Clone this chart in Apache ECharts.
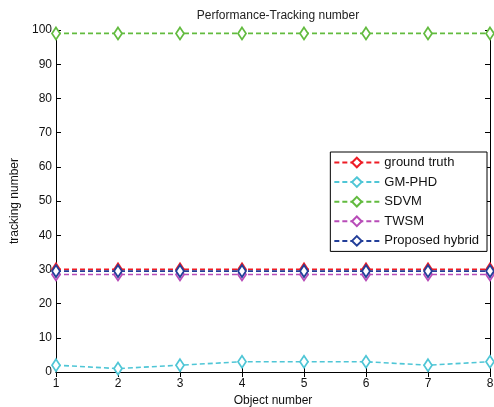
<!DOCTYPE html>
<html lang="en">
<head>
    <meta charset="utf-8">
    <style type="text/css">
    body { margin: 0; background-color: #fff; }
    #echarts { width: 494px; height: 407px; }
    </style>
</head>
<body>
    <div id="echarts"></div>
    <script type="text/javascript" src="https://cdn.jsdelivr.net/npm/echarts@6/dist/echarts.min.js"></script>
    <script type="text/javascript">
    var objects = [1, 2, 3, 4, 5, 6, 7, 8];
    var seriesNames = ['ground truth', 'GM-PHD', 'SDVM', 'TWSM', 'Proposed hybrid'];
    var groundTruth = [30, 30, 30, 30, 30, 30, 30, 30];
    var gmPhd = [2, 1, 2, 3, 3, 3, 2, 3];
    var sdvm = [99, 99, 99, 99, 99, 99, 99, 99];
    var twsm = [28.5, 28.5, 28.5, 28.5, 28.5, 28.5, 28.5, 28.5];
    var hybrid = [29.5, 29.5, 29.5, 29.5, 29.5, 29.5, 29.5, 29.5];
    var colors = ['#ee1c25', '#4fc6d6', '#62bb3f', '#b84cb8', '#233f99'];

    var font = 'Liberation Sans, Arial, sans-serif';
    var myEcharts = echarts.init(document.getElementById('echarts'));

    function makeSeries(name, values, color) {
        return {
            name: name,
            type: 'line',
            data: values.map(function(v, i) { return [objects[i], v]; }),
            symbol: 'diamond',
            symbolSize: [8, 12],
            showSymbol: true,
            lineStyle: { color: color, width: 1.6, type: [5, 3] },
            itemStyle: { color: '#fff', borderColor: color, borderWidth: 1.8 },
            emphasis: { disabled: true },
            animation: false
        };
    }

    var axisCommon = {
        axisLine: { show: true, lineStyle: { color: '#000', width: 1 } },
        axisTick: { show: true, inside: true, length: 5, lineStyle: { color: '#000' } },
        splitLine: { show: false }
    };

    var option = {
        title: {
            text: 'Performance-Tracking number',
            left: 273,
            top: 5,
            textAlign: 'center',
            textStyle: { fontFamily: font, fontSize: 12, fontWeight: 'normal', color: '#222' }
        },
        grid: { left: 56, right: 4, top: 30, bottom: 35, containLabel: false, outerBoundsMode: 'none' },
        legend: {
            orient: 'vertical',
            right: 7,
            top: 152,
            padding: [4, 8, 4, 3],
            itemWidth: 45,
            itemHeight: 12,
            itemGap: 6.6,
            borderColor: '#000',
            borderWidth: 1,
            backgroundColor: '#fff',
            data: seriesNames,
            textStyle: { fontFamily: font, fontSize: 13, color: '#111' }
        },
        xAxis: [
            Object.assign({
                type: 'value', min: 1, max: 8, interval: 1, position: 'bottom',
                name: 'Object number', nameLocation: 'middle', nameGap: 21,
                nameTextStyle: { fontFamily: font, fontSize: 12, color: '#111' },
                axisLabel: { fontFamily: font, fontSize: 12, color: '#111', margin: 6 }
            }, axisCommon),
            Object.assign({
                type: 'value', min: 1, max: 8, interval: 1, position: 'top',
                axisLabel: { show: false }
            }, axisCommon)
        ],
        yAxis: [
            Object.assign({
                type: 'value', min: 0, max: 100, interval: 10, position: 'left',
                name: 'tracking number', nameLocation: 'middle', nameGap: 29,
                nameTextStyle: { fontFamily: font, fontSize: 12, color: '#111' },
                axisLabel: { fontFamily: font, fontSize: 12, color: '#111', margin: 4 }
            }, axisCommon),
            Object.assign({
                type: 'value', min: 0, max: 100, interval: 10, position: 'right',
                axisLabel: { show: false }
            }, axisCommon)
        ],
        series: [
            makeSeries(seriesNames[0], groundTruth, colors[0]),
            makeSeries(seriesNames[1], gmPhd, colors[1]),
            makeSeries(seriesNames[2], sdvm, colors[2]),
            makeSeries(seriesNames[3], twsm, colors[3]),
            makeSeries(seriesNames[4], hybrid, colors[4])
        ]
    };
    myEcharts.setOption(option);
    </script>
</body>
</html>
